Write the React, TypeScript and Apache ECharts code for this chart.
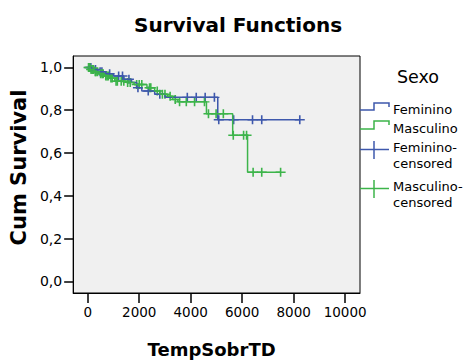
import React, { useEffect, useRef } from "react";
import * as echarts from "echarts";

// Kaplan-Meier step points [time, survival]
const femininoSteps: number[][] = [
  [0, 1], [150, 0.99], [400, 0.98], [700, 0.97], [1000, 0.96], [1400, 0.945],
  [1700, 0.93], [1900, 0.905], [2100, 0.89], [2600, 0.875], [3000, 0.86], [5052, 0.755],
];
const femininoEnd = 8238;
const femininoCensored: number[][] = [
  [60, 1], [120, 1], [200, 0.99], [300, 0.99], [480, 0.98], [550, 0.98], [850, 0.97], [1200, 0.96], [1350, 0.96],
  [1600, 0.945], [1950, 0.905], [2350, 0.89], [2800, 0.875], [3868, 0.86], [4215, 0.86],
  [4562, 0.86], [4921, 0.86], [5090, 0.755], [5669, 0.755], [6402, 0.755], [6760, 0.755], [8238, 0.755],
];

const masculinoSteps: number[][] = [
  [0, 1], [100, 0.99], [250, 0.98], [450, 0.97], [650, 0.96], [850, 0.95], [1050, 0.935],
  [1500, 0.93], [1800, 0.92], [2300, 0.905], [2600, 0.89], [2800, 0.875], [3100, 0.865],
  [3300, 0.85], [3500, 0.839], [4612, 0.783], [5631, 0.683], [6209, 0.51],
];
const masculinoEnd = 7493;
const masculinoCensored: number[][] = [
  [30, 1], [80, 1], [130, 0.99], [180, 0.99], [220, 0.99], [290, 0.98], [320, 0.98], [380, 0.98],
  [500, 0.97], [560, 0.97], [600, 0.97], [700, 0.96], [750, 0.96], [800, 0.96],
  [900, 0.95], [950, 0.95], [1100, 0.935], [1150, 0.935], [1300, 0.935], [1400, 0.935],
  [1550, 0.93], [1650, 0.93], [1900, 0.92], [2000, 0.92], [2100, 0.92],
  [2400, 0.905], [2450, 0.905], [2700, 0.89], [2900, 0.875], [3000, 0.875], [3200, 0.865], [3400, 0.85], [3567, 0.839],
  [3829, 0.839], [4150, 0.839], [4535, 0.839], [4690, 0.783], [4987, 0.783], [5268, 0.783],
  [5654, 0.683], [6055, 0.683], [6170, 0.683], [6425, 0.51], [6760, 0.51], [7493, 0.51],
];

const xTicks = [0, 2000, 4000, 6000, 8000, 10000];
const yTicks = [0, 0.2, 0.4, 0.6, 0.8, 1.0];

const BLUE = "#3E58AC";
const GREEN = "#3CB44A";
const FONT = "DejaVu Sans";
const PLUS = "path://M4.2,0h1.6v4.2h4.2v1.6h-4.2v4.2h-1.6v-4.2h-4.2v-1.6h4.2z";

function withEnd(steps: number[][], end: number): number[][] {
  const last = steps[steps.length - 1];
  return [...steps, [end, last[1]]];
}

export default function App() {
  const ref = useRef<HTMLDivElement>(null);
  useEffect(() => {
    if (!ref.current) return;
    const chart = echarts.init(ref.current, null, { renderer: "svg" });
    chart.setOption({
      animation: false,
      backgroundColor: "#ffffff",
      title: {
        text: "Survival Functions",
        left: 233,
        top: 10,
        textAlign: "center",
        textStyle: { fontFamily: FONT, fontWeight: "bold", fontSize: 20, color: "#000" },
      },
      grid: {
        left: 71, right: 108, top: 56, bottom: 68,
        show: true, backgroundColor: "#f0f0f0", borderColor: "#000", borderWidth: 1,
      },
      xAxis: {
        type: "value",
        min: -567,
        max: 10578,
        splitLine: { show: false },
        axisLine: { show: true, onZero: false, lineStyle: { color: "#000", width: 1 } },
        axisTick: { show: true, length: 10, customValues: xTicks, lineStyle: { color: "#000", width: 1.5 } },
        axisLabel: {
          customValues: xTicks, margin: 12, color: "#000", fontFamily: FONT, fontSize: 13.5,
          formatter: (v: number) => String(v),
        },
        name: "TempSobrTD",
        nameLocation: "middle",
        nameGap: 47,
        nameTextStyle: { fontFamily: FONT, fontWeight: "bold", fontSize: 18, color: "#000", padding: [0, 10, 0, 0] },
      },
      yAxis: {
        type: "value",
        min: -0.0542,
        max: 1.0533,
        splitLine: { show: false },
        axisLine: { show: true, onZero: false, lineStyle: { color: "#000", width: 1 } },
        axisTick: { show: true, length: 9, customValues: yTicks, lineStyle: { color: "#000", width: 1.5 } },
        axisLabel: {
          customValues: yTicks, margin: 11, color: "#000", fontFamily: FONT, fontSize: 14,
          formatter: (v: number) => v.toFixed(1).replace(".", ","),
        },
        name: "Cum Survival",
        nameLocation: "middle",
        nameRotate: 90,
        nameGap: 40,
        nameTextStyle: { fontFamily: FONT, fontWeight: "bold", fontSize: 21, color: "#000", padding: [0, 0, 0, 14] },
      },
      series: [
        {
          name: "Feminino", type: "line", step: "end", showSymbol: false,
          data: withEnd(femininoSteps, femininoEnd),
          lineStyle: { color: BLUE, width: 1.5 }, itemStyle: { color: BLUE },
        },
        {
          name: "Feminino-censored", type: "scatter", symbol: PLUS, symbolSize: [10, 9],
          data: femininoCensored, itemStyle: { color: BLUE, opacity: 1 },
        },
        {
          name: "Masculino", type: "line", step: "end", showSymbol: false,
          data: withEnd(masculinoSteps, masculinoEnd),
          lineStyle: { color: GREEN, width: 1.5 }, itemStyle: { color: GREEN },
        },
        {
          name: "Masculino-censored", type: "scatter", symbol: PLUS, symbolSize: [10, 9],
          data: masculinoCensored, itemStyle: { color: GREEN, opacity: 1 },
        },
      ],
      graphic: [
        { type: "text", x: 418, y: 77, style: { text: "Sexo", fontFamily: FONT, fontSize: 17.5, fill: "#000", align: "center", verticalAlign: "middle" } },
        { type: "polyline", shape: { points: [[360, 110], [374, 110], [374, 103], [389, 103], [389, 107]] }, style: { stroke: BLUE, lineWidth: 1.5, fill: "none" } },
        { type: "text", x: 393, y: 109, style: { text: "Feminino", fontFamily: FONT, fontSize: 13, fill: "#000", verticalAlign: "middle" } },
        { type: "polyline", shape: { points: [[360, 129], [374, 129], [374, 121], [389, 121], [389, 125]] }, style: { stroke: GREEN, lineWidth: 1.5, fill: "none" } },
        { type: "text", x: 393, y: 128, style: { text: "Masculino", fontFamily: FONT, fontSize: 13, fill: "#000", verticalAlign: "middle" } },
        { type: "line", shape: { x1: 360, y1: 149.5, x2: 389, y2: 149.5 }, style: { stroke: BLUE, lineWidth: 1.5 } },
        { type: "line", shape: { x1: 374, y1: 141, x2: 374, y2: 159 }, style: { stroke: BLUE, lineWidth: 1.5 } },
        { type: "text", x: 393, y: 155, style: { text: "Feminino-\ncensored", fontFamily: FONT, fontSize: 13, lineHeight: 16, fill: "#000", verticalAlign: "middle" } },
        { type: "line", shape: { x1: 360, y1: 188.5, x2: 389, y2: 188.5 }, style: { stroke: GREEN, lineWidth: 1.5 } },
        { type: "line", shape: { x1: 374, y1: 180, x2: 374, y2: 198 }, style: { stroke: GREEN, lineWidth: 1.5 } },
        { type: "text", x: 393, y: 194, style: { text: "Masculino-\ncensored", fontFamily: FONT, fontSize: 13, lineHeight: 16, fill: "#000", verticalAlign: "middle" } },
      ],
    });
    return () => chart.dispose();
  }, []);
  return <div ref={ref} style={{ position: "fixed", left: 0, top: 0, width: 468, height: 363 }} />;
}
